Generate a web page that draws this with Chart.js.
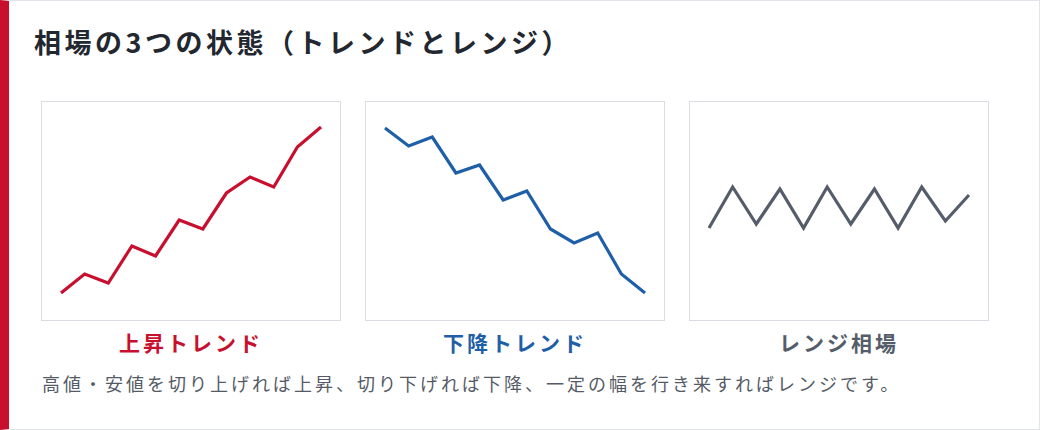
<!DOCTYPE html>
<html lang="ja">
<head>
<meta charset="utf-8">
<script src="https://cdn.jsdelivr.net/npm/chart.js@4/dist/chart.umd.min.js"></script>
<style>
  html, body { margin: 0; padding: 0; background: #fff; }
  body { width: 1040px; height: 430px; font-family: "Noto Sans CJK JP", "Noto Sans", sans-serif; }
  .card { position: absolute; left: 0; top: 0; border: 1px solid #e2e4ea; border-left: 9px solid #c8102e; box-sizing: border-box; width: 1040px; height: 430px; }
  h1 { position: absolute; left: 34px; top: 22px; margin: 0; font-size: 27px; font-weight: 700; color: #222730; letter-spacing: 3.5px; white-space: nowrap; }
  .box { position: absolute; top: 101px; width: 298px; height: 218px; border: 1px solid #d9dce3; }
  .box canvas { display: block; }
  .lab { position: absolute; top: 327px; width: 300px; text-align: center; font-size: 21px; font-weight: 700; letter-spacing: 3px; }
  .cap { position: absolute; left: 42px; top: 370px; font-size: 18px; color: #555b66; letter-spacing: 3px; white-space: nowrap; }
</style>
</head>
<body>
<div class="card"></div>
<h1>相場の3つの状態（トレンドとレンジ）</h1>
<div class="box" style="left:41px"><canvas id="c1" width="298" height="218"></canvas></div>
<div class="box" style="left:365px"><canvas id="c2" width="298" height="218"></canvas></div>
<div class="box" style="left:689px"><canvas id="c3" width="298" height="218"></canvas></div>
<div class="lab" style="left:41px;color:#c8102e">上昇トレンド</div>
<div class="lab" style="left:365px;color:#1f5fa8">下降トレンド</div>
<div class="lab" style="left:689px;color:#555d6a">レンジ相場</div>
<div class="cap">高値・安値を切り上げれば上昇、切り下げれば下降、一定の幅を行き来すればレンジです。</div>
<script>
const steps = ["1","2","3","4","5","6","7","8","9","10","11","12"];
const upValues = [27, 46, 37, 74, 64, 100, 91, 127, 143, 133, 173, 193];
const downValues = [192, 174, 183, 147, 155, 120, 129, 91, 77, 87, 46, 27];
const rangeValues = [92, 133, 96, 131, 92, 133, 96, 131, 92, 133, 99, 125];

function mini(id, values, color) {
  new Chart(document.getElementById(id).getContext("2d"), {
    type: "line",
    data: {
      labels: steps,
      datasets: [{ data: values, borderColor: color, borderWidth: 3.2, pointRadius: 0, tension: 0, fill: false }]
    },
    options: {
      responsive: false,
      animation: false,
      layout: { padding: { left: 19, right: 19, top: 0, bottom: 0 } },
      plugins: { legend: { display: false }, tooltip: { enabled: false } },
      scales: {
        x: { display: false, offset: false },
        y: { display: false, min: 0, max: 218 }
      }
    }
  });
}
mini("c1", upValues, "#c8102e");
mini("c2", downValues, "#1f5fa8");
mini("c3", rangeValues, "#555d6a");
</script>
</body>
</html>
